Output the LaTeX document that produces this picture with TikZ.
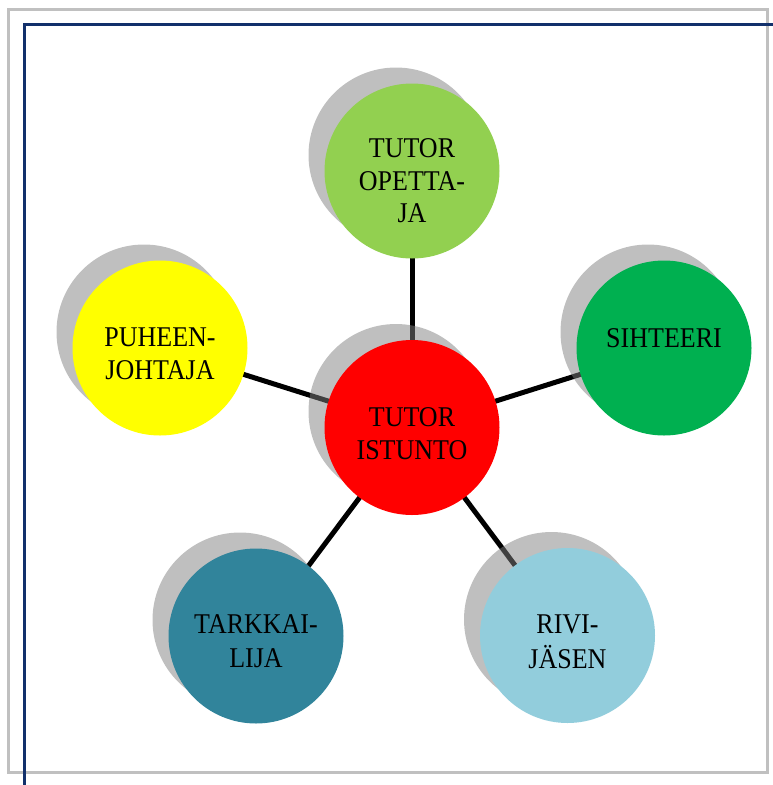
\documentclass[tikz,border=0pt]{standalone}
\usepackage{fontspec}
\usepackage{graphicx}
\setmainfont{Liberation Serif}
\pgfdeclarelayer{lines}
\pgfdeclarelayer{shadows}
\pgfsetlayers{lines,shadows,main}
\definecolor{frameGray}{HTML}{C0C0C0}
\definecolor{frameBlue}{HTML}{12306B}
\definecolor{cRed}{HTML}{FF0000}
\definecolor{cYellow}{HTML}{FFFF00}
\definecolor{cLightGreen}{HTML}{92D050}
\definecolor{cGreen}{HTML}{00B050}
\definecolor{cTeal}{HTML}{31849B}
\definecolor{cLightBlue}{HTML}{92CDDC}
\newcommand{\tallword}[1]{\scalebox{1}[1.1]{#1}}
\tikzset{
  bubble/.style={circle, minimum size=175pt, inner sep=0pt, draw=none},
  shadowbubble/.style={circle, minimum size=175pt, inner sep=0pt, draw=none, fill=black!50, fill opacity=0.5},
  word/.style={anchor=base, inner sep=0pt, font=\fontsize{26}{33}\selectfont, text=black},
  spoke/.style={line width=5pt, black}
}
\begin{document}
\begin{tikzpicture}[x=1pt,y=-1pt]
\useasboundingbox (0,0) rectangle (773,785);
% frames
\draw[frameGray, line width=3pt] (8.7,9.7) rectangle (767,772.8);
\draw[frameBlue, line width=3pt] (773,24.7) -- (24,24.7) -- (24,785);

% circles
\node[bubble, fill=cRed] (ist) at (412,427.5) {};
\node[bubble, fill=cLightGreen] (ope) at (412,171) {};
\node[bubble, fill=cGreen] (sih) at (664,348) {};
\node[bubble, fill=cYellow] (puh) at (160,348) {};
\node[bubble, fill=cTeal] (tar) at (256,636) {};
\node[bubble, fill=cLightBlue] (riv) at (567.5,635.5) {};

% shadows
\begin{pgfonlayer}{shadows}
\node[shadowbubble] (ists) at (396,411.5) {};
\node[shadowbubble] (opes) at (396,155) {};
\node[shadowbubble] (sihs) at (648,332) {};
\node[shadowbubble] (puhs) at (144,332) {};
\node[shadowbubble] (tars) at (240,620) {};
\node[shadowbubble] (rivs) at (551.5,619.5) {};
\end{pgfonlayer}

% spokes
\begin{pgfonlayer}{lines}
\draw[spoke] (ist.center) -- (ope.center);
\draw[spoke] (ist.center) -- (sih.center);
\draw[spoke] (ist.center) -- (puh.center);
\draw[spoke] (ist.center) -- (tar.center);
\draw[spoke] (ist.center) -- (riv.center);
\end{pgfonlayer}

% texts
\node[word] (t1a) at (412,426) {\tallword{TUTOR}};
\node[word] (t1b) at (412,459.3) {\tallword{ISTUNTO}};
\node[word] (t2a) at (412,157) {\tallword{TUTOR}};
\node[word] (t2b) at (412,190) {\tallword{OPETTA-}};
\node[word] (t2c) at (412,222) {\tallword{JA}};
\node[word] (t3a) at (664,347) {\tallword{SIHTEERI}};
\node[word] (t4a) at (160,346) {\tallword{PUHEEN-}};
\node[word] (t4b) at (160,379) {\tallword{JOHTAJA}};
\node[word] (t5a) at (256,633.3) {\tallword{TARKKAI-}};
\node[word] (t5b) at (256,667.7) {\tallword{LIJA}};
\node[word] (t6a) at (567.5,633) {\tallword{RIVI-}};
\node[word] (t6b) at (567.5,668) {\tallword{JÄSEN}};
\end{tikzpicture}
\end{document}
